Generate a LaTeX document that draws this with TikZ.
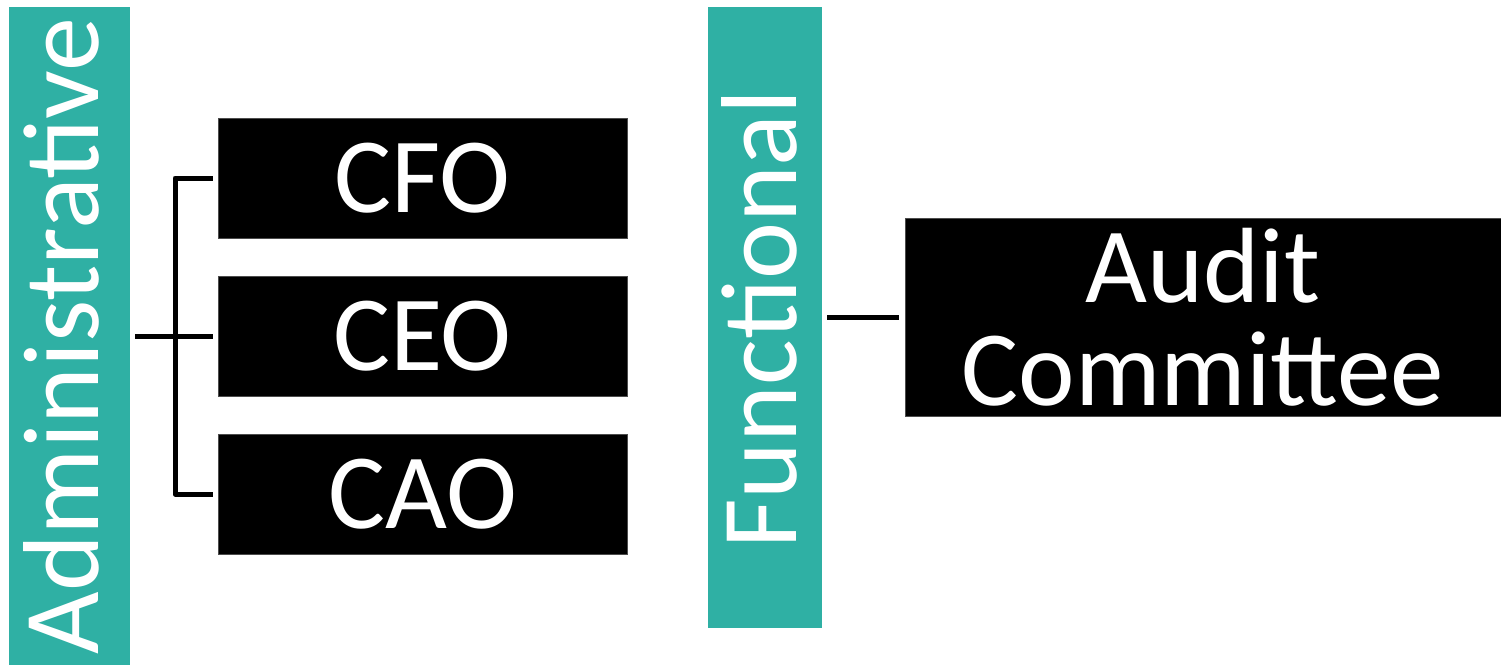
\documentclass[tikz,border=0pt]{standalone}
\usepackage{fontspec}
\setmainfont{Carlito}
\definecolor{teal1}{RGB}{47,176,164}
\begin{document}
\begin{tikzpicture}[x=1pt,y=-1pt,
  bar/.style={fill=teal1, draw=none, inner sep=0pt},
  bartext/.style={text=white, rotate=90, anchor=base, inner sep=0pt, font=\fontsize{108}{108}\selectfont},
  box/.style={fill=black, draw=black!70, line width=0.8pt, text=white, inner sep=0pt, font=\fontsize{107}{103}\selectfont, align=center},
  conn/.style={draw=black, line width=5pt, line join=round}]
\useasboundingbox (0,0) rectangle (1501,665);
% teal bars
\node[bar, minimum width=121pt, minimum height=658pt] (adm) at (69.5,336) {};
\node[bar, minimum width=114pt, minimum height=621pt] (fun) at (765,317.5) {};
\node[bartext] (admt) at (98,336) {Administrative};
\node[bartext] (funt) at (796,319) {Functional};
% boxes
\node[box, minimum width=409pt, minimum height=120pt] (cfo) at (422.5,178) {CFO};
\node[box, minimum width=409pt, minimum height=120pt] (ceo) at (422.5,336) {CEO};
\node[box, minimum width=409pt, minimum height=120pt] (cao) at (422.5,494) {CAO};
\node[box, minimum width=596pt, minimum height=198pt] (audit) at (1203,317) {Audit\\Committee};
% connectors
\coordinate (jx) at (175,336);
\coordinate (a0) at (135,336);
\draw[conn, shorten <=5pt, shorten >=5pt] (cfo.west) -| (jx) |- (cao.west);
\draw[conn, shorten >=5pt] (a0) -- (a0 -| ceo.west);
\draw[conn, shorten <=5pt, shorten >=6pt] (fun.east |- audit.west) -- (audit.west);
\end{tikzpicture}
\end{document}
